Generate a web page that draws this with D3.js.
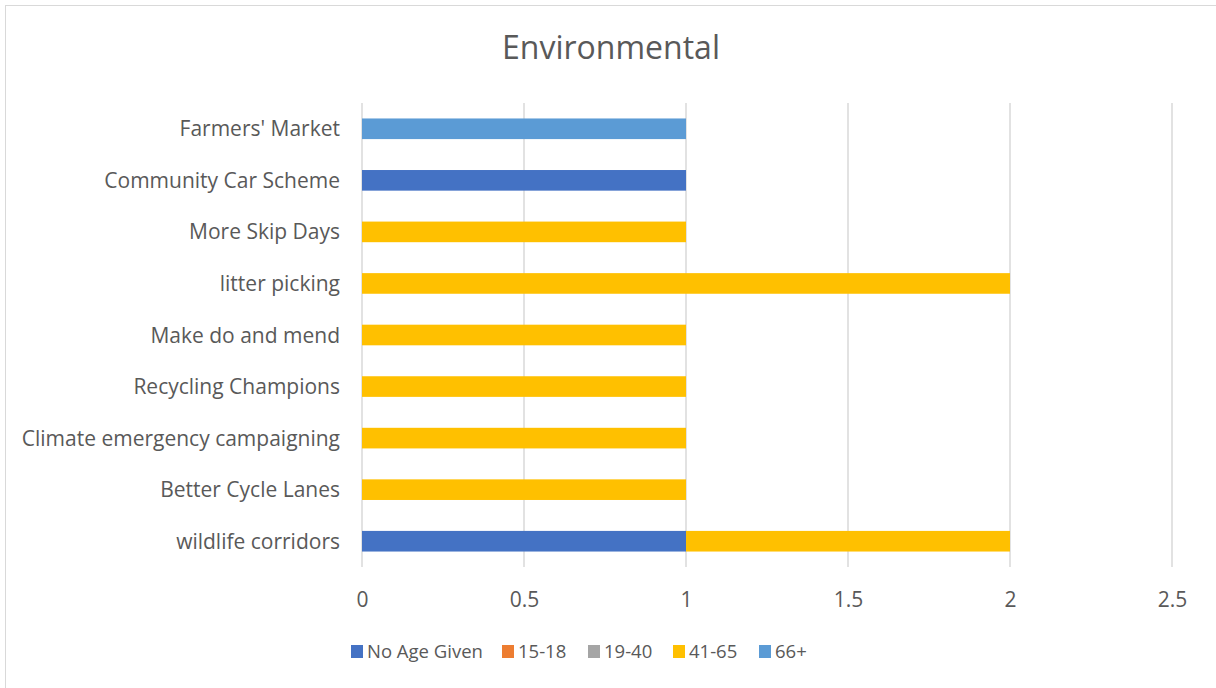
<!DOCTYPE html>
<html>
<head>
<meta charset="utf-8">
<script src="https://cdn.jsdelivr.net/npm/d3@7"></script>
<style>
  html, body { margin: 0; padding: 0; background: #fff; }
  svg { display: block; }
  text { font-family: "Open Sans", Lato, sans-serif; fill: #595959; }
</style>
</head>
<body>
<svg id="chart" width="1216" height="688"></svg>
<script>
// Activity ideas, bottom to top as listed on the category axis
const categories = [
  "wildlife corridors",
  "Better Cycle Lanes",
  "Climate emergency campaigning",
  "Recycling Champions",
  "Make do and mend",
  "litter picking",
  "More Skip Days",
  "Community Car Scheme",
  "Farmers' Market"
];

// Age groups (stacked series) and their colours
const seriesNames = ["No Age Given", "15-18", "19-40", "41-65", "66+"];
const seriesColors = ["#4472C4", "#ED7D31", "#A5A5A5", "#FFC000", "#5B9BD5"];

// Counts per age group, same order as categories
const noAgeGiven = [1, 0, 0, 0, 0, 0, 0, 1, 0];
const age15to18  = [0, 0, 0, 0, 0, 0, 0, 0, 0];
const age19to40  = [0, 0, 0, 0, 0, 0, 0, 0, 0];
const age41to65  = [1, 1, 1, 1, 1, 2, 1, 0, 0];
const age66plus  = [0, 0, 0, 0, 0, 0, 0, 0, 1];

const xTicks = [0, 0.5, 1, 1.5, 2, 2.5];

const seriesValues = [noAgeGiven, age15to18, age19to40, age41to65, age66plus];
const rows = categories.map((c, i) => {
  const r = { category: c };
  seriesNames.forEach((s, k) => { r[s] = seriesValues[k][i]; });
  return r;
});

const svg = d3.select("#chart");
const W = 1216, H = 688;
const labelFont = "21px";
const legendFont = "18.5px";

// chart frame
svg.append("rect")
  .attr("x", 5.5).attr("y", 5.5)
  .attr("width", W + 10).attr("height", H + 10)
  .attr("fill", "#fff").attr("stroke", "#D9D9D9").attr("stroke-width", 1);

const plot = { left: 362, right: 1172, top: 103, bottom: 567 };

const x = d3.scaleLinear().domain([0, 2.5]).range([plot.left, plot.right]);
const y = d3.scaleBand()
  .domain(categories.slice().reverse())
  .range([plot.top, plot.bottom])
  .paddingInner(0.6).paddingOuter(0.3);

// title
svg.append("text")
  .attr("x", 611).attr("y", 59)
  .attr("text-anchor", "middle")
  .style("font-size", "32px")
  .text("Environmental");

// vertical gridlines
svg.append("g")
  .selectAll("line")
  .data(xTicks)
  .join("line")
  .attr("x1", d => x(d)).attr("x2", d => x(d))
  .attr("y1", plot.top).attr("y2", plot.bottom)
  .attr("stroke", "#D9D9D9").attr("stroke-width", 1.5);

// x axis labels
const xAxis = d3.axisBottom(x).tickValues(xTicks).tickSize(0).tickPadding(0)
  .tickFormat(d3.format("~g"));
const gx = svg.append("g")
  .attr("transform", `translate(0,${plot.bottom})`)
  .call(xAxis);
gx.select(".domain").remove();
gx.selectAll("text")
  .attr("y", 40).attr("dy", null)
  .style("font-size", labelFont).style("font-family", "'Open Sans', sans-serif").attr("fill", "#595959");

// category labels
const yAxis = d3.axisLeft(y).tickSize(0).tickPadding(0);
const gy = svg.append("g")
  .attr("transform", `translate(340,0)`)
  .call(yAxis);
gy.select(".domain").remove();
gy.selectAll("text")
  .attr("dy", "0.36em")
  .style("font-size", labelFont).style("font-family", "'Open Sans', sans-serif").attr("fill", "#595959");

// stacked bars
const stack = d3.stack().keys(seriesNames);
const layers = stack(rows);
svg.append("g")
  .selectAll("g")
  .data(layers)
  .join("g")
  .attr("fill", (d, i) => seriesColors[i])
  .selectAll("rect")
  .data(d => d.filter(p => p[1] - p[0] > 0))
  .join("rect")
  .attr("x", d => x(d[0]))
  .attr("width", d => x(d[1]) - x(d[0]))
  .attr("y", d => y(d.data.category))
  .attr("height", y.bandwidth());

// legend
const legendX = [351, 502, 588, 673, 759];
const legend = svg.append("g");
seriesNames.forEach((name, i) => {
  legend.append("rect")
    .attr("x", legendX[i]).attr("y", 645)
    .attr("width", 12).attr("height", 13)
    .attr("fill", seriesColors[i]);
  legend.append("text")
    .attr("x", legendX[i] + 16).attr("y", 658)
    .style("font-size", legendFont)
    .text(name);
});
</script>
</body>
</html>
